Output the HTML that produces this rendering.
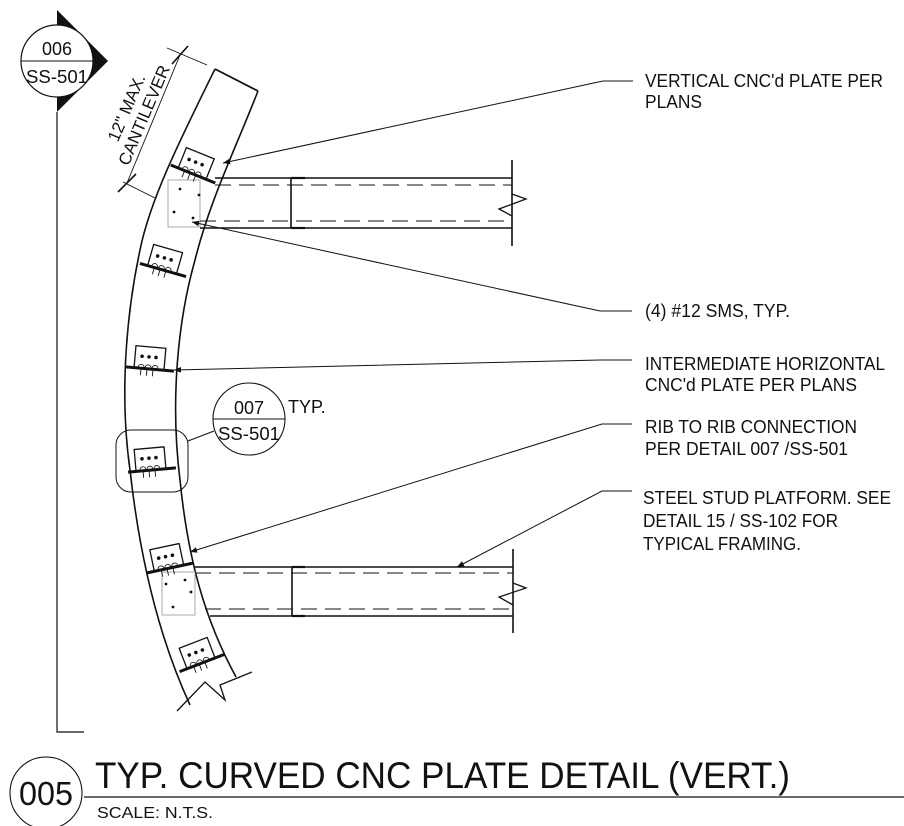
<!DOCTYPE html>
<html><head><meta charset="utf-8"><style>
html,body{margin:0;padding:0;background:#fff;}
svg{display:block;}
text{font-family:"Liberation Sans",Arial,sans-serif;fill:#111;}
</style></head><body>
<svg width="904" height="826" viewBox="0 0 904 826" xmlns="http://www.w3.org/2000/svg">
<defs>
<g id="plate">
  <rect x="-16" y="-22" width="30" height="22" fill="#fff" stroke="#111" stroke-width="1.3"/>
  <circle cx="-9" cy="-12" r="1.8" fill="#111"/><circle cx="-2" cy="-12" r="1.8" fill="#111"/><circle cx="5" cy="-12" r="1.8" fill="#111"/>
  <path d="M-12,-1 a3,3 0 0 1 6,0 M-5,-1 a3,3 0 0 1 6,0 M2,-1 a3,3 0 0 1 6,0" fill="none" stroke="#111" stroke-width="0.8"/>
  <line x1="-24" y1="0" x2="24" y2="0" stroke="#111" stroke-width="3"/>
  <path d="M-9,0 v7 M-3,0 v7 M3,0 v7" stroke="#111" stroke-width="0.9"/>
</g>
<marker id="ar" viewBox="0 0 10 10" refX="10" refY="5" markerWidth="16" markerHeight="7" markerUnits="userSpaceOnUse" orient="auto">
  <path d="M0,1 L10,5 L0,9 z" fill="#111"/>
</marker>
</defs>

<polygon points="57,10 108,61 57,112" fill="#111"/>
<circle cx="57" cy="61" r="36" fill="#fff" stroke="#111" stroke-width="1.2"/>
<line x1="21" y1="61" x2="93" y2="61" stroke="#111" stroke-width="1"/>
<text x="57" y="55" font-size="18" text-anchor="middle">006</text>
<text x="57" y="83" font-size="18" text-anchor="middle" textLength="62" lengthAdjust="spacingAndGlyphs">SS-501</text>
<polyline points="57,112 57,732 84,732" fill="none" stroke="#111" stroke-width="1.2"/>

<path d="M215,69 L258,91" stroke="#111" stroke-width="1.8"/>
<path d="M215,69 C180,140 150,200 140,250 C125,320 120,400 130,470 C140,560 160,640 190,705" fill="none" stroke="#111" stroke-width="1.6"/>
<path d="M258,91 C235,150 210,200 195,260 C178,320 170,400 180,480 C188,560 205,620 236,677" fill="none" stroke="#111" stroke-width="1.6"/>
<polyline points="177,711 205,682 225,700 220,685 252,672" fill="none" stroke="#111" stroke-width="1.3"/>

<rect x="168" y="180" width="32" height="47" fill="none" stroke="#aaa" stroke-width="1"/>
<circle cx="180" cy="189" r="1.4" fill="#111"/><circle cx="199" cy="195" r="1.4" fill="#111"/><circle cx="174" cy="212" r="1.4" fill="#111"/><circle cx="193" cy="218" r="1.4" fill="#111"/>
<rect x="162" y="572" width="33" height="43" fill="none" stroke="#aaa" stroke-width="1"/>
<circle cx="166" cy="584" r="1.4" fill="#111"/><circle cx="185" cy="580" r="1.4" fill="#111"/><circle cx="173" cy="607" r="1.4" fill="#111"/><circle cx="191" cy="592" r="1.4" fill="#111"/>

<use href="#plate" transform="translate(193,174) rotate(22)"/>
<use href="#plate" transform="translate(163,270) rotate(16)"/>
<use href="#plate" transform="translate(150,369) rotate(5)"/>
<use href="#plate" transform="translate(152,470) rotate(-5)"/>
<use href="#plate" transform="translate(170,568) rotate(-12)"/>
<use href="#plate" transform="translate(202,663) rotate(-21)"/>

<g stroke="#111" fill="none">
<line x1="215" y1="178" x2="512" y2="178" stroke-width="1.6"/>
<line x1="200" y1="228" x2="512" y2="228" stroke-width="1.6"/>
<line x1="215" y1="185" x2="512" y2="185" stroke-dasharray="16,8" stroke-width="1"/>
<line x1="200" y1="221" x2="512" y2="221" stroke-dasharray="16,8" stroke-width="1"/>
<line x1="291" y1="178" x2="291" y2="228" stroke-width="1.6"/>
<line x1="291" y1="178" x2="305" y2="178" stroke-width="2.2"/>
<line x1="291" y1="228" x2="305" y2="228" stroke-width="2.2"/>
<line x1="512" y1="160" x2="512" y2="246" stroke-width="1.6"/>
<polyline points="512,194 526,199 499,209 512,216" stroke-width="1.3"/>
</g>
<g stroke="#111" fill="none">
<line x1="195" y1="567" x2="513" y2="567" stroke-width="1.6"/>
<line x1="210" y1="616" x2="513" y2="616" stroke-width="1.6"/>
<line x1="195" y1="573" x2="513" y2="573" stroke-dasharray="16,8" stroke-width="1"/>
<line x1="205" y1="609" x2="513" y2="609" stroke-dasharray="16,8" stroke-width="1"/>
<line x1="292" y1="567" x2="292" y2="616" stroke-width="1.6"/>
<line x1="292" y1="567" x2="305" y2="567" stroke-width="2.2"/>
<line x1="292" y1="616" x2="305" y2="616" stroke-width="2.2"/>
<line x1="513" y1="549" x2="513" y2="633" stroke-width="1.6"/>
<polyline points="513,583 526,588 499,597 513,605" stroke-width="1.3"/>
</g>

<g stroke="#111" stroke-width="0.9">
<line x1="127" y1="183" x2="180" y2="55"/>
<line x1="123" y1="182" x2="155" y2="198"/>
<line x1="167" y1="48" x2="207" y2="65"/>
<line x1="118" y1="192" x2="136" y2="174" stroke-width="1.6"/>
<line x1="172" y1="64" x2="188" y2="46" stroke-width="1.6"/>
</g>
<g transform="translate(153,119) rotate(-67)">
<text x="0" y="-23" font-size="17" text-anchor="middle">12" MAX.</text>
<text x="0" y="-4" font-size="17" text-anchor="middle">CANTILEVER</text>
</g>

<rect x="116" y="430" width="72" height="62" rx="15" fill="none" stroke="#111" stroke-width="1"/>
<line x1="188" y1="441" x2="214" y2="431" stroke="#111" stroke-width="1"/>
<circle cx="249" cy="419" r="36" fill="#fff" stroke="#111" stroke-width="1.1"/>
<line x1="213" y1="419" x2="285" y2="419" stroke="#111" stroke-width="1"/>
<text x="249" y="414" font-size="18" text-anchor="middle">007</text>
<text x="249" y="440" font-size="18" text-anchor="middle" textLength="62" lengthAdjust="spacingAndGlyphs">SS-501</text>
<text x="288" y="413" font-size="18">TYP.</text>

<g stroke="#111" stroke-width="1" fill="none">
<polyline points="633,81 603,81 223,163" marker-end="url(#ar)"/>
<polyline points="632,311 600,311 192,222" marker-end="url(#ar)"/>
<polyline points="632,360 600,360 174,370" marker-end="url(#ar)"/>
<polyline points="632,424 602,424 190,552" marker-end="url(#ar)"/>
<polyline points="632,491 602,491 457,567" marker-end="url(#ar)"/>
</g>
<g font-size="18">
<text x="645" y="87" textLength="238" lengthAdjust="spacingAndGlyphs">VERTICAL CNC'd PLATE PER</text>
<text x="645" y="108" textLength="57" lengthAdjust="spacingAndGlyphs">PLANS</text>
<text x="645" y="317" textLength="145" lengthAdjust="spacingAndGlyphs">(4) #12 SMS, TYP.</text>
<text x="645" y="370" textLength="240" lengthAdjust="spacingAndGlyphs">INTERMEDIATE HORIZONTAL</text>
<text x="645" y="391" textLength="212" lengthAdjust="spacingAndGlyphs">CNC'd PLATE PER PLANS</text>
<text x="645" y="433" textLength="212" lengthAdjust="spacingAndGlyphs">RIB TO RIB CONNECTION</text>
<text x="645" y="455" textLength="203" lengthAdjust="spacingAndGlyphs">PER DETAIL  007 /SS-501</text>
<text x="643" y="504" textLength="248" lengthAdjust="spacingAndGlyphs">STEEL STUD PLATFORM. SEE</text>
<text x="643" y="527" textLength="195" lengthAdjust="spacingAndGlyphs">DETAIL 15 / SS-102 FOR</text>
<text x="643" y="550" textLength="158" lengthAdjust="spacingAndGlyphs">TYPICAL FRAMING.</text>
</g>

<circle cx="46" cy="793" r="36" fill="none" stroke="#111" stroke-width="1.1"/>
<text x="46" y="805" font-size="33" text-anchor="middle" textLength="54" lengthAdjust="spacingAndGlyphs">005</text>
<text x="95" y="788" font-size="37" textLength="695" lengthAdjust="spacingAndGlyphs">TYP. CURVED CNC PLATE DETAIL (VERT.)</text>
<line x1="84" y1="797" x2="904" y2="797" stroke="#111" stroke-width="1.2"/>
<text x="97" y="818" font-size="16" textLength="116" lengthAdjust="spacingAndGlyphs">SCALE:  N.T.S.</text>
</svg>
</body></html>
